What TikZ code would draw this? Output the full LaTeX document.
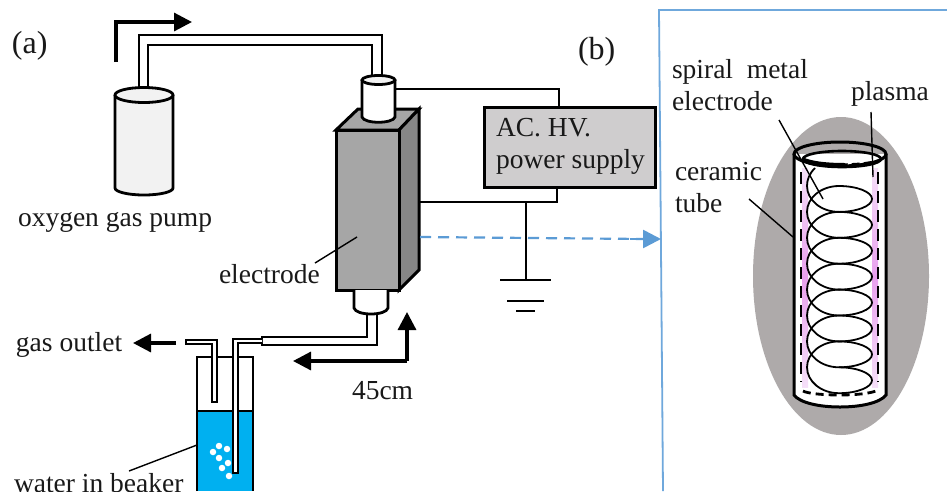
\documentclass[tikz,border=0pt]{standalone}
\usepackage{fontspec}
\setmainfont{Liberation Serif}
\usetikzlibrary{arrows.meta}
\definecolor{pumpfill}{HTML}{F2F2F2}
\definecolor{boxfront}{HTML}{A6A6A6}
\definecolor{boxside}{HTML}{878787}
\definecolor{psfill}{HTML}{CFCDCE}
\definecolor{waterc}{HTML}{00B0F0}
\definecolor{bluel}{HTML}{5B9BD5}
\definecolor{panelc}{HTML}{6FA8DC}
\definecolor{halo}{HTML}{AEAAAA}
\definecolor{pinkm}{HTML}{E8A0EE}
\definecolor{pinkl}{HTML}{F5DFF8}
\tikzset{
  lab/.style={anchor=base west,inner sep=0pt,outer sep=0pt,font=\fontsize{27.5}{30}\selectfont,text=black!90},
  biglab/.style={lab,font=\fontsize{32}{34}\selectfont},
  wire/.style={line width=1.9pt,black},
  thick wire/.style={line width=2.8pt,black,line join=miter},
  leader/.style={line width=1.4pt,black},
  flow/.style={line width=3.2pt,black,-{Triangle[length=18pt,width=18pt]}},
  tubewall/.style={line width=2.1pt,black},
  finewall/.style={line width=1.5pt,black},
  coil/.style={line width=1.8pt,black},
  bubble/.style={circle,fill=white,draw=none,minimum size=6.5pt,inner sep=0pt},
  pinkstrip/.style={draw=none,top color=pinkl,bottom color=pinkl,middle color=pinkm},
}
\begin{document}
\begin{tikzpicture}[x=1pt,y=-1pt]
\clip (0,0) rectangle (947,491);
\fill[white] (0,0) rectangle (947,491);

% --- labels
\node[biglab] (la) at (12,53) {(a)};
\node[biglab] (lb) at (578,59) {(b)};
\node[lab] (lpump) at (18,226) {oxygen gas pump};
\node[lab] (lelec) at (219,283) {electrode};
\node[lab] (lout) at (16,351) {gas outlet};
\node[lab] (lcm) at (352,399) {45cm};
\node[lab] (lwater) at (14,492) {water in beaker};
\node[lab] (lspiral) at (672,78) {spiral\ \ metal};
\node[lab] (lspiral2) at (672,110) {electrode};
\node[lab] (lplasma) at (851,100) {plasma};
\node[lab] (lcer) at (675,180) {ceramic};
\node[lab] (ltube) at (675,212) {tube};

% --- panel
\coordinate (pa) at (663,491); \coordinate (pb) at (659,10); \coordinate (pc) at (947,10);
\draw[panelc,line width=1.8pt] (pa) -- (pb) -- (pc);

% --- gas tube from pump
\draw[tubewall] (139,88) -- (139,35) -- (382,35) -- (382,78);
\draw[tubewall] (148,88) -- (148,45) -- (372,45) -- (372,78);

% --- flow arrow
\coordinate (fa) at (116,62); \coordinate (fb) at (116,22); \coordinate (fc) at (192,22);
\draw[flow] (fa) -- (fb) -- (fc);

% --- pump
\draw[thick wire,fill=pumpfill] (115,95) -- (115,188) arc[start angle=180,end angle=360,x radius=29,y radius=-7] -- (173,95);
\draw[thick wire,fill=pumpfill] (144,95) ellipse[x radius=29,y radius=7.5];

% --- electrode box
\draw[thick wire,line width=3pt,fill=boxfront] (336,130) -- (358,109) -- (419,109) -- (399,130) -- cycle;
\draw[thick wire,line width=3pt,fill=boxside] (399,130) -- (419,109) -- (419,270) -- (399,290) -- cycle;
\draw[thick wire,line width=3pt,fill=boxfront] (336,130) rectangle (399,290);

% --- top connector
\draw[thick wire,fill=white] (362,80) -- (362,117) .. controls (364,124) and (393,124) .. (395,117) -- (395,80);
\draw[thick wire,fill=pumpfill] (378.5,80) ellipse[x radius=16.5,y radius=4.5];

% --- bottom connector
\draw[thick wire,fill=white] (354,290) -- (354,308) .. controls (356,316) and (386,316) .. (388,308) -- (388,290);

% --- tube to beaker
\draw[tubewall] (367,314) -- (367,337) -- (262,337) -- (262,345) -- (377,345) -- (377,314);
\draw[leader] (315,263) -- (357,237);

% --- beaker
\fill[waterc] (197,411) rectangle (253,491);
\draw[wire] (197,491) -- (197,357) -- (253,357) -- (253,491);
\draw[wire] (197,411) -- (253,411);
\foreach \bx/\by [count=\bi] in {219/446,227/449,213/452,219/458,228/463,222/468,229/476}
  \node[bubble] (bub\bi) at (\bx,\by) {};
\draw[finewall,fill=white] (262,339) -- (233,339) -- (233,473) -- (238,473) -- (238,343) -- (262,343);
\draw[finewall,fill=white] (186,340) -- (217,340) -- (217,402) -- (212,402) -- (212,344) -- (186,344) -- cycle;
\draw[leader] (129,471) -- (197,445);

% --- outlet arrow, 45cm arrows
\coordinate (oa) at (176,343); \coordinate (ob) at (133,343);
\draw[flow] (oa) -- (ob);
\coordinate (ca) at (407,361);
\coordinate (cb) at (407,312);
\coordinate (cc) at (293,361);
\draw[flow] (ca) -- (cb);
\draw[flow] (ca) -- (cc);

% --- power supply
\node[draw=black,line width=3pt,fill=psfill,minimum width=171pt,minimum height=80pt,inner sep=0pt,anchor=north west] (ps) at (483,106) {};
\node[lab] (lac) at (496,136) {AC. HV.};
\node[lab] (lps) at (496,168) {power supply};

% --- wires
\coordinate (wa) at (395,89); \coordinate (wb) at (559,89);
\coordinate (wc) at (557,202); \coordinate (wd) at (419,202);
\coordinate (g0) at (526,202); \coordinate (g1) at (526,280);
\draw[wire] (wa) -- (wb) -- (wb |- ps.north);
\draw[wire] (wc |- ps.south) -- (wc) -- (wd);
\draw[wire] (g0) -- (g1);
\coordinate (ga1) at (500,280); \coordinate (ga2) at (551,280);
\coordinate (gb1) at (507,301); \coordinate (gb2) at (544,301);
\coordinate (gc1) at (516,311); \coordinate (gc2) at (535,311);
\draw[wire] (ga1) -- (ga2);
\draw[wire] (gb1) -- (gb2);
\draw[wire] (gc1) -- (gc2);

% --- dashed blue arrow
\coordinate (da) at (420,237); \coordinate (db) at (644,239); \coordinate (dc) at (661,239);
\draw[bluel,line width=2.2pt,dash pattern=on 11pt off 7pt] (da) -- (db);
\draw[bluel,line width=2.6pt,-{Triangle[length=18pt,width=18pt]}] (630,239) -- (dc);

% --- panel (b): gray halo
\fill[halo] (841,276) ellipse[x radius=88,y radius=159];

% --- ceramic tube body
\fill[white] (794,154) -- (794,395) .. controls (800,403) and (820,407) .. (840,407) .. controls (860,407) and (880,403) .. (886,395) -- (886,154) -- cycle;
\shade[pinkstrip] (802,168) rectangle (808,387);
\shade[pinkstrip] (872,168) rectangle (878,387);
\draw[black,line width=2.6pt,dash pattern=on 12pt off 7pt] (801,172) -- (801,382);
\draw[black,line width=2.6pt,dash pattern=on 12pt off 7pt] (878,172) -- (878,382);
\draw[black,line width=2.8pt,dash pattern=on 8pt off 5pt] (803,391) .. controls (812,396) and (866,397) .. (878,390);

% --- spiral
\foreach \k in {0,...,7} {
  \pgfmathsetmacro{\ya}{186+25.9*\k}
  \pgfmathsetmacro{\yb}{\ya+25.9}
  \pgfmathsetmacro{\ym}{\ya+12.95}
  \draw[coil] (839,\ya) .. controls (857,\ya) and (872,{\ym-7}) .. (872,\ym) .. controls (872,{\ym+7}) and (857,\yb) .. (839,\yb);
}
\foreach \k in {-1,...,6} {
  \pgfmathsetmacro{\ya}{186+25.9*\k}
  \pgfmathsetmacro{\yb}{\ya+51.8}
  \pgfmathsetmacro{\ym}{\ya+25.9}
  \ifnum\k=-1
    \draw[coil] (815,168) .. controls (809,174) and (807,180) .. (807,\ym) .. controls (807,{\ym+14}) and (821,\yb) .. (839,\yb);
  \else
    \draw[coil] (839,\ya) .. controls (821,\ya) and (807,{\ym-14}) .. (807,\ym) .. controls (807,{\ym+14}) and (821,\yb) .. (839,\yb);
  \fi
}

% --- ceramic tube outline
\draw[black,line width=3pt] (794,154) -- (794,395) .. controls (800,403) and (820,407) .. (840,407) .. controls (860,407) and (880,403) .. (886,395) -- (886,154);
\draw[black,line width=3pt] (840,154) ellipse[x radius=46,y radius=12];
\draw[black,line width=2.6pt] (842,159) ellipse[x radius=39,y radius=8];
\draw[black,line width=4pt] (802,159) .. controls (810,163) and (825,165) .. (845,165);
\draw[black,line width=2.8pt,dash pattern=on 8pt off 4pt] (804,161) .. controls (820,166) and (860,166) .. (878,161);

% --- leaders in (b)
\coordinate (sa) at (779,120); \coordinate (sb) at (823,199);
\coordinate (pl1) at (871,112); \coordinate (pl2) at (873,177);
\coordinate (ta) at (749,199); \coordinate (tb) at (793,237);
\draw[leader] (sa) -- (sb);
\draw[leader] (pl1) -- (pl2);
\draw[leader] (ta) -- (tb);
\end{tikzpicture}
\end{document}
